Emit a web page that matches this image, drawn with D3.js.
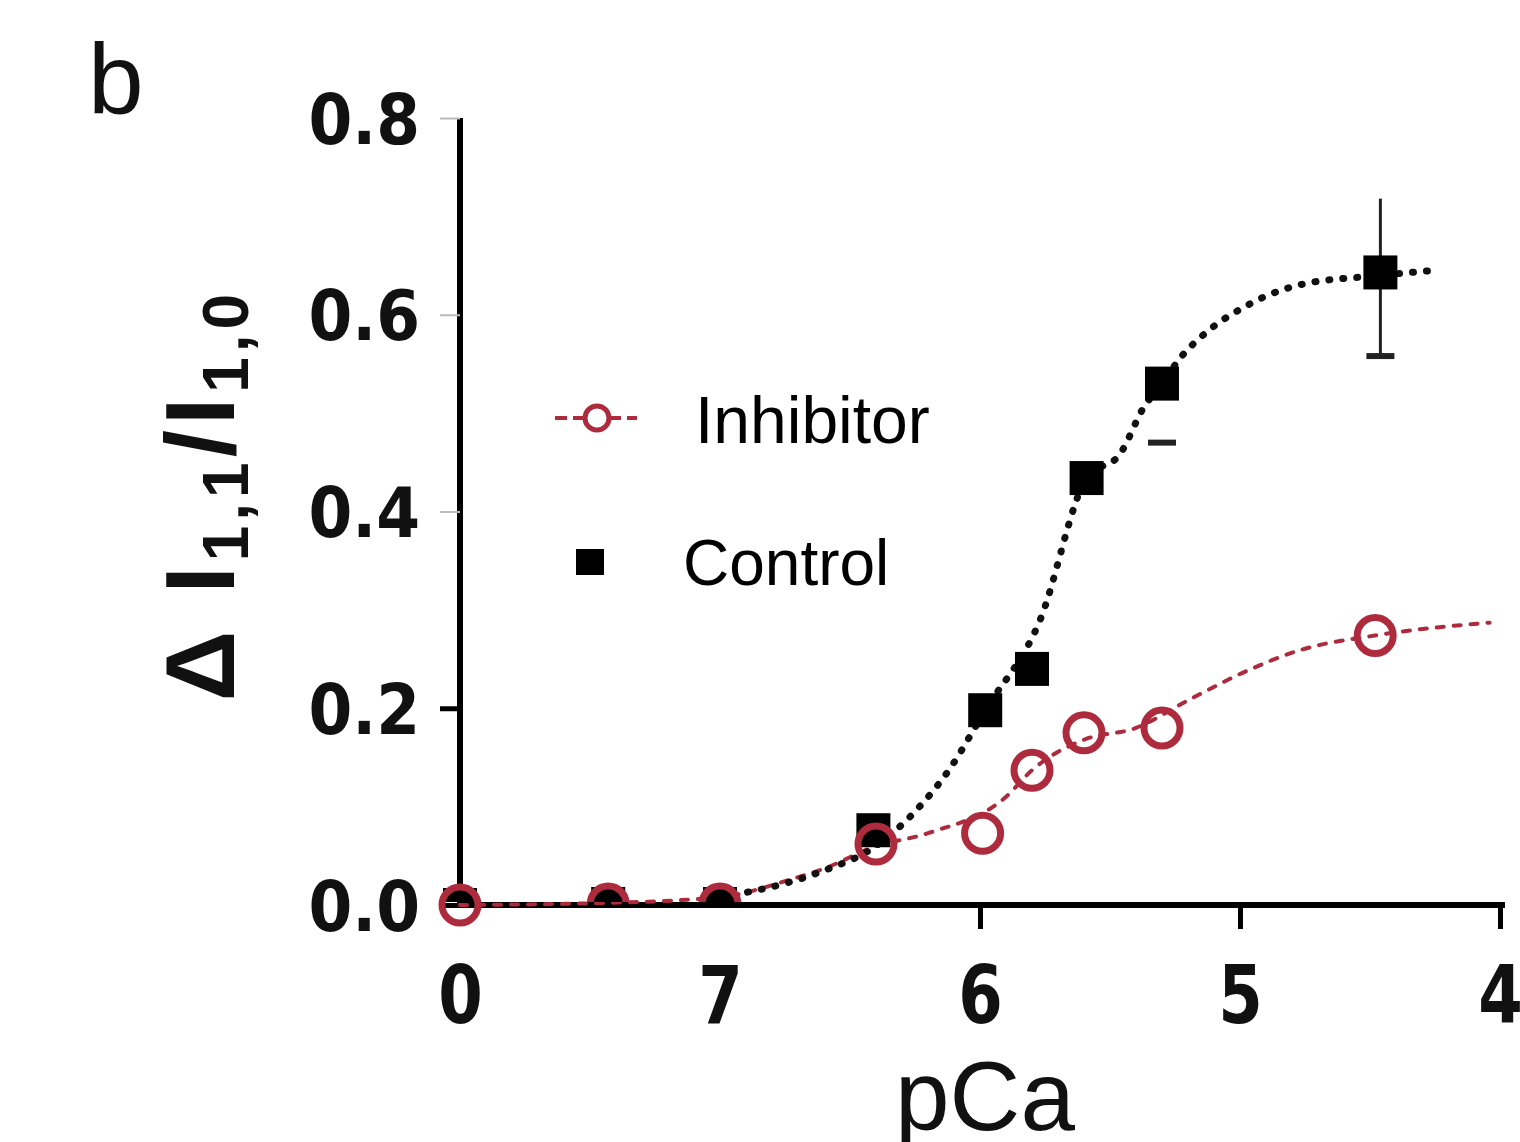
<!DOCTYPE html>
<html><head><meta charset="utf-8">
<script src="https://cdn.jsdelivr.net/npm/d3@7"></script>
<style>html,body{margin:0;padding:0;background:#fff;}svg{display:block;}</style>
</head><body>
<svg id="chart" width="1520" height="1142"></svg>
<script>
// ---- data ----
const xTickValues = [8, 7, 6, 5, 4];
const xTickLabels = ["0", "7", "6", "5", "4"];
const yTickValues = [0, 0.2, 0.4, 0.6, 0.8];
const yTickLabels = ["0.0", "0.2", "0.4", "0.6", "0.8"];

const controlPCa   = [8, 7.43, 7.0, 6.41, 5.98, 5.80, 5.59, 5.30, 4.46];
const controlVal   = [0, 0.001, 0.001, 0.076, 0.198, 0.24, 0.434, 0.53, 0.643];
const controlErrLo = [0, 0, 0, 0, 0, 0, 0, 0.06, 0.085];
const controlErrHi = [0, 0, 0, 0, 0, 0, 0, 0, 0.075];

const inhibPCa = [8, 7.43, 7.0, 6.40, 5.99, 5.80, 5.60, 5.30, 4.48];
const inhibVal = [0, 0.001, 0.001, 0.062, 0.073, 0.137, 0.175, 0.18, 0.274];

// fitted curves
const controlFitPCa = [7.0, 6.75, 6.6, 6.4, 6.25, 6.12, 5.98, 5.77, 5.59, 5.46, 5.37, 5.30, 5.23, 5.13, 4.99, 4.90, 4.76, 4.46, 4.26];
const controlFitVal = [0.008, 0.022, 0.035, 0.06, 0.095, 0.137, 0.198, 0.289, 0.434, 0.459, 0.506, 0.53, 0.556, 0.582, 0.607, 0.619, 0.631, 0.64, 0.645];
const inhibFitPCa = [8, 7.46, 7.0, 6.74, 6.59, 6.41, 6.20, 5.90, 5.80, 5.60, 5.40, 5.20, 4.99, 4.77, 4.48, 4.04];
const inhibFitVal = [0, 0.002, 0.008, 0.025, 0.038, 0.059, 0.073, 0.11, 0.137, 0.168, 0.18, 0.208, 0.236, 0.259, 0.274, 0.287];

const legendLabels = ["Inhibitor", "Control"];

// ---- drawing ----
const svg = d3.select("#chart");
const red = "#ad2b3d";
const x = d3.scaleLinear().domain([8, 4]).range([460, 1500]);
const y = d3.scaleLinear().domain([0, 0.8]).range([905, 118]);

// clip for markers resting on the x axis
svg.append("defs").append("clipPath").attr("id", "above").append("rect")
  .attr("x", 0).attr("y", 0).attr("width", 1520).attr("height", y(0) - 3);

// y axis
const yAxis = d3.axisLeft(y).tickValues(yTickValues).tickFormat((d, i) => yTickLabels[i]).tickSize(20).tickPadding(14);
const gy = svg.append("g").attr("transform", "translate(460,0)").call(yAxis);
gy.select(".domain").attr("stroke", "#000").attr("stroke-width", 6).attr("d", `M0,${y(0.8)}V${y(0)}`);
gy.selectAll(".tick line").attr("stroke", (d) => (d <= 0.2 ? "#000" : "#bbb")).attr("stroke-width", (d) => (d <= 0.2 ? 5 : 2));
gy.selectAll(".tick text").attr("font-family", "DejaVu Sans").attr("font-weight", "bold").attr("font-size", 70)
  .attr("fill", "#111").attr("x", -40 / 0.9).attr("dy", "0.36em").attr("transform", "scale(0.9,1)");

// x axis
const xAxis = d3.axisBottom(x).tickValues(xTickValues).tickFormat((d, i) => xTickLabels[i]).tickSize(24).tickPadding(16);
const gx = svg.append("g").attr("transform", `translate(0,${y(0)})`).call(xAxis);
gx.select(".domain").attr("stroke", "#000").attr("stroke-width", 6).attr("d", `M${x(8)},0H${x(4)+5}`);
gx.selectAll(".tick line").attr("stroke", "#000").attr("stroke-width", 5).attr("opacity", (d) => (d >= 7 ? 0 : 1));
gx.selectAll(".tick text").attr("font-family", "DejaVu Sans").attr("font-weight", "bold").attr("font-size", 80)
  .attr("fill", "#111").attr("y", 118).attr("dy", 0).attr("transform", "scale(0.8,1)");

// fit lines
const line = d3.line().x((d) => x(d[0])).y((d) => y(d[1])).curve(d3.curveMonotoneX);
const inhibFit = inhibFitPCa.map((p, i) => [p, inhibFitVal[i]]);
const controlFit = controlFitPCa.map((p, i) => [p, controlFitVal[i]]);
svg.append("path").attr("d", line(inhibFit)).attr("fill", "none").attr("stroke", red)
  .attr("stroke-width", 4).attr("stroke-dasharray", "7,10").attr("stroke-linecap", "round");
svg.append("path").attr("d", line(controlFit)).attr("fill", "none").attr("stroke", "#111")
  .attr("stroke-width", 7).attr("stroke-dasharray", "1,13").attr("stroke-linecap", "round");

// error bars (control)
const ctrl = controlPCa.map((p, i) => ({ p, v: controlVal[i], lo: controlErrLo[i], hi: controlErrHi[i] }));
ctrl.filter((d) => d.lo > 0 || d.hi > 0).forEach((d) => {
  const cx = x(d.p);
  if (d.hi > 0) {
    svg.append("line").attr("x1", cx).attr("x2", cx).attr("y1", y(d.v + d.hi)).attr("y2", y(d.v - d.lo))
      .attr("stroke", "#222").attr("stroke-width", 3);
  }
  svg.append("line").attr("x1", cx - 14).attr("x2", cx + 14).attr("y1", y(d.v - d.lo)).attr("y2", y(d.v - d.lo))
    .attr("stroke", "#222").attr("stroke-width", 6);
});

// control markers (filled squares)
const sq = 34;
const onAxis = (d) => d.v < 0.01;
svg.append("g").selectAll("rect").data(ctrl).join("rect")
  .attr("clip-path", (d) => (onAxis(d) ? "url(#above)" : null))
  .attr("x", (d) => x(d.p) - sq / 2).attr("y", (d) => y(d.v) - sq / 2)
  .attr("width", sq).attr("height", sq).attr("fill", "#000");

// inhibitor markers (open circles)
const inh = inhibPCa.map((p, i) => ({ p, v: inhibVal[i] }));
svg.append("g").selectAll("circle").data(inh).join("circle")
  .attr("clip-path", (d) => (onAxis(d) && d.p < 8 ? "url(#above)" : null))
  .attr("cx", (d) => x(d.p)).attr("cy", (d) => y(d.v)).attr("r", 18)
  .attr("fill", "none").attr("stroke", red).attr("stroke-width", 7);

// legend
const lg = svg.append("g");
lg.append("line").attr("x1", 555).attr("x2", 637).attr("y1", 418).attr("y2", 418)
  .attr("stroke", red).attr("stroke-width", 4).attr("stroke-dasharray", "12,6");
lg.append("circle").attr("cx", 597).attr("cy", 418).attr("r", 12).attr("fill", "#fff").attr("stroke", red).attr("stroke-width", 5);
lg.append("text").attr("x", 695).attr("y", 443).text(legendLabels[0])
  .attr("font-family", "Liberation Sans, Arial").attr("font-size", 66).attr("fill", "#000");
lg.append("rect").attr("x", 576).attr("y", 549).attr("width", 28).attr("height", 26).attr("fill", "#000");
lg.append("text").attr("x", 683).attr("y", 585).text(legendLabels[1])
  .attr("font-family", "Liberation Sans, Arial").attr("font-size", 64).attr("fill", "#000");

// axis titles
svg.append("text").attr("x", 985).attr("y", 1130).attr("text-anchor", "middle")
  .attr("font-family", "Liberation Sans, Arial").attr("font-size", 98).attr("fill", "#111").text("pCa");

const yt = svg.append("text").attr("transform", "translate(234,495) rotate(-90)").attr("text-anchor", "middle")
  .attr("font-family", "Liberation Sans, Arial").attr("font-weight", "bold").attr("font-size", 98).attr("fill", "#111")
  .attr("letter-spacing", 5);
yt.append("tspan").text("Δ I");
yt.append("tspan").attr("font-size", 64).attr("dy", 14).text("1,1");
yt.append("tspan").attr("dy", -14).text("/I");
yt.append("tspan").attr("font-size", 64).attr("dy", 14).text("1,0");

// panel label
svg.append("text").attr("x", 88).attr("y", 114).attr("font-family", "Liberation Sans, Arial")
  .attr("font-size", 100).attr("fill", "#111").text("b");
</script>
</body></html>
